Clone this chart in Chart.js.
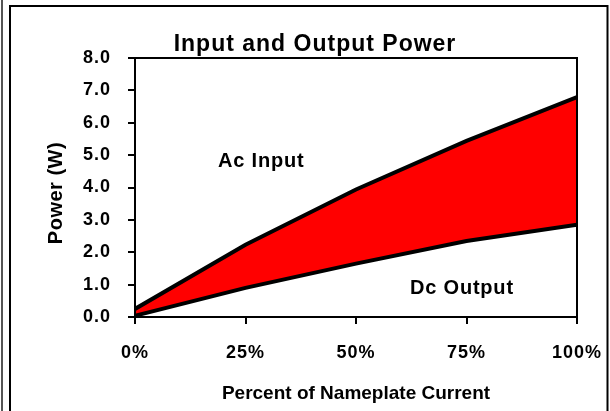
<!DOCTYPE html>
<html>
<head>
<meta charset="utf-8">
<script src="https://cdn.jsdelivr.net/npm/chart.js@4"></script>
<style>
  html, body { margin: 0; padding: 0; background: #fff; }
  canvas { display: block; }
</style>
</head>
<body>
<canvas id="powerChart" width="610" height="411"></canvas>
<script>
// Data
const currentPct = [0, 25, 50, 75, 100];
const acInput = [0.25, 2.23, 3.94, 5.44, 6.79];
const dcOutput = [0.04, 0.9, 1.65, 2.35, 2.85];
const yTicks = [0, 1, 2, 3, 4, 5, 6, 7, 8];

const FONT = "'Liberation Sans', Arial, sans-serif";

const toPoints = (xs, ys) => xs.map((x, i) => ({ x: x, y: ys[i] }));

// Frame, title, axis titles and in-plot labels
const decorPlugin = {
    id: 'decor',
    beforeDraw(chart) {
        const ctx = chart.ctx;
        ctx.save();
        ctx.fillStyle = '#fff';
        ctx.fillRect(0, 0, chart.width, chart.height);
        ctx.strokeStyle = '#555';
        ctx.lineWidth = 2;
        ctx.beginPath();
        ctx.moveTo(2, 0);
        ctx.lineTo(2, chart.height);
        ctx.stroke();
        ctx.strokeStyle = '#000';
        ctx.beginPath();
        ctx.moveTo(10, chart.height + 2);
        ctx.lineTo(10, 6);
        ctx.lineTo(607.5, 6);
        ctx.lineTo(607.5, chart.height + 2);
        ctx.stroke();
        ctx.restore();
        // slightly wider tick labels like the original
        ctx.letterSpacing = '1px';
    },
    afterDraw(chart) {
        const ctx = chart.ctx;
        const a = chart.chartArea;
        ctx.save();
        ctx.letterSpacing = '0px';
        // plot area box (top + right edges)
        ctx.strokeStyle = '#000';
        ctx.lineWidth = 2;
        ctx.strokeRect(a.left, a.top, a.right - a.left, a.bottom - a.top);

        ctx.fillStyle = '#000';
        ctx.textBaseline = 'alphabetic';

        ctx.font = 'bold 23px ' + FONT;
        ctx.letterSpacing = '1px';
        ctx.textAlign = 'center';
        ctx.fillText('Input and Output Power', 315, 51);

        ctx.font = 'bold 19px ' + FONT;
        ctx.letterSpacing = '0px';
        ctx.fillText('Percent of Nameplate Current', 356, 399);

        ctx.font = 'bold 20px ' + FONT;
        ctx.letterSpacing = '0.8px';
        ctx.textAlign = 'left';
        ctx.fillText('Ac Input', 218, 167);
        ctx.fillText('Dc Output', 410, 294);

        ctx.letterSpacing = '0.5px';
        ctx.translate(56, 193);
        ctx.rotate(-Math.PI / 2);
        ctx.textAlign = 'center';
        ctx.textBaseline = 'middle';
        ctx.fillText('Power (W)', 0, 0);
        ctx.restore();
        ctx.letterSpacing = '0px';
    }
};

const axisStyle = {
    grid: { drawOnChartArea: false, drawTicks: true, tickLength: 7, color: '#000', lineWidth: 2 },
    border: { color: '#000', width: 2 }
};

new Chart(document.getElementById('powerChart'), {
    type: 'line',
    data: {
        datasets: [{
            label: 'Dc Output',
            data: toPoints(currentPct, dcOutput),
            borderColor: '#000',
            borderWidth: 4,
            pointRadius: 0,
            tension: 0,
            fill: false
        }, {
            label: 'Ac Input',
            data: toPoints(currentPct, acInput),
            borderColor: '#000',
            borderWidth: 4,
            pointRadius: 0,
            tension: 0,
            fill: '-1',
            backgroundColor: '#ff0000'
        }]
    },
    options: {
        responsive: false,
        animation: false,
        devicePixelRatio: 1,
        layout: { padding: { left: 10, top: 58, right: 33, bottom: 0 } },
        plugins: {
            legend: { display: false },
            title: { display: false },
            tooltip: { enabled: false },
            filler: { drawTime: 'beforeDatasetsDraw' }
        },
        scales: {
            x: {
                type: 'linear',
                min: 0, max: 100,
                afterFit: (s) => { s.height = 94; s.paddingLeft = 0; s.paddingRight = 0; },
                ticks: {
                    stepSize: 25,
                    padding: 18,
                    color: '#000',
                    font: { family: FONT, size: 18, weight: 'bold' },
                    callback: (v) => v + '%',
                    maxRotation: 0
                },
                ...axisStyle
            },
            y: {
                min: 0, max: 8,
                afterFit: (s) => { s.width = 125; s.paddingTop = 0; s.paddingBottom = 0; },
                afterBuildTicks: (s) => { s.ticks = yTicks.map(v => ({ value: v })); },
                ticks: {
                    padding: 17,
                    color: '#000',
                    font: { family: FONT, size: 18, weight: 'bold' },
                    callback: (v) => Number(v).toFixed(1)
                },
                ...axisStyle
            }
        }
    },
    plugins: [decorPlugin]
});
</script>
</body>
</html>
